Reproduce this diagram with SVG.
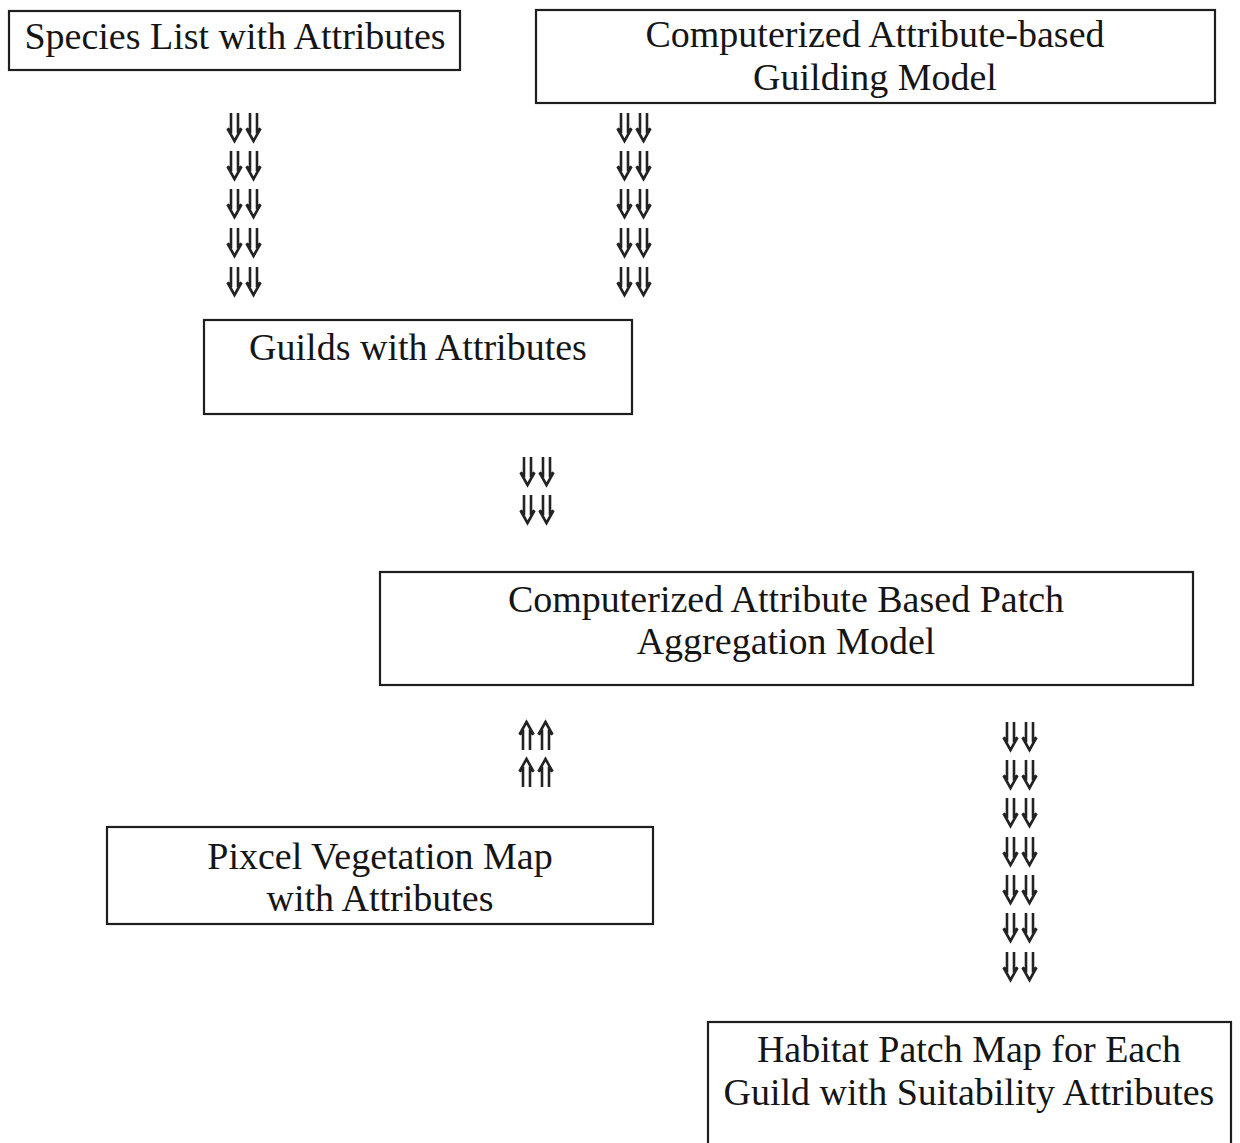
<svg xmlns="http://www.w3.org/2000/svg" xmlns:xlink="http://www.w3.org/1999/xlink" width="1240" height="1143" viewBox="0 0 1240 1143">
<style>
.box{fill:none;stroke:#1e1e1e;stroke-width:2.2}
.t{font-family:"Liberation Serif","Times New Roman",serif;font-size:38px;fill:#151515;text-anchor:middle}
.ar{fill:none;stroke:#222;stroke-width:2.6;stroke-linejoin:miter}
</style>
<defs>
<g id="dn">
<path class="ar" d="M5 0 V18 L1.5 15.5 L8.5 28 L15.5 15.5 L12 18 V0"/>
<path class="ar" d="M24 0 V18 L20.5 15.5 L27.5 28 L34.5 15.5 L31 18 V0"/>
</g>
<g id="up">
<path class="ar" d="M5 28 V10 L1.5 12.5 L8.5 0 L15.5 12.5 L12 10 V28"/>
<path class="ar" d="M24 28 V10 L20.5 12.5 L27.5 0 L34.5 12.5 L31 10 V28"/>
</g>
</defs>
<rect width="1240" height="1143" fill="#ffffff"/>
<g id="connectors">
<use href="#dn" x="226" y="113"/>
<use href="#dn" x="226" y="151"/>
<use href="#dn" x="226" y="189"/>
<use href="#dn" x="226" y="228"/>
<use href="#dn" x="226" y="267"/>
<use href="#dn" x="616" y="113"/>
<use href="#dn" x="616" y="151"/>
<use href="#dn" x="616" y="189"/>
<use href="#dn" x="616" y="228"/>
<use href="#dn" x="616" y="267"/>
<use href="#dn" x="519" y="457"/>
<use href="#dn" x="519" y="495"/>
<use href="#up" x="518" y="722"/>
<use href="#up" x="518" y="759"/>
<use href="#dn" x="1002" y="722"/>
<use href="#dn" x="1002" y="760"/>
<use href="#dn" x="1002" y="798"/>
<use href="#dn" x="1002" y="837"/>
<use href="#dn" x="1002" y="875"/>
<use href="#dn" x="1002" y="913"/>
<use href="#dn" x="1002" y="952"/>
</g>
<g id="species">
<rect class="box" x="9" y="11" width="451" height="59"/>
<text class="t" x="235" y="49">Species List with Attributes</text>
</g>
<g id="guilding-model">
<rect class="box" x="536" y="10" width="679" height="93"/>
<text class="t" x="875" y="47">Computerized Attribute-based</text>
<text class="t" x="875" y="90">Guilding Model</text>
</g>
<g id="guilds">
<rect class="box" x="204" y="320" width="428" height="94"/>
<text class="t" x="418" y="360">Guilds with Attributes</text>
</g>
<g id="patch-model">
<rect class="box" x="380" y="572" width="813" height="113"/>
<text class="t" x="786" y="612">Computerized Attribute Based Patch</text>
<text class="t" x="786" y="654">Aggregation Model</text>
</g>
<g id="pixel-map">
<rect class="box" x="107" y="827" width="546" height="97"/>
<text class="t" x="380" y="869">Pixcel Vegetation Map</text>
<text class="t" x="380" y="911">with Attributes</text>
</g>
<g id="habitat-map">
<rect class="box" x="708" y="1022" width="523" height="140"/>
<text class="t" x="969" y="1062">Habitat Patch Map for Each</text>
<text class="t" x="969" y="1105">Guild with Suitability Attributes</text>
</g>
</svg>
